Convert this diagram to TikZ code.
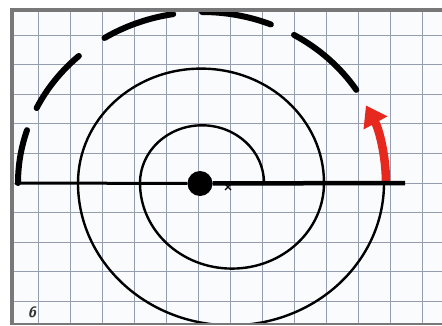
\documentclass[tikz,border=0pt]{standalone}
\usepackage{xcolor}
\usepackage{tikz}
\usetikzlibrary{arrows.meta,calc}

\definecolor{paper}{RGB}{249,251,253}
\definecolor{gridblue}{RGB}{150,157,176}
\definecolor{framegray}{RGB}{120,120,120}
\definecolor{markred}{RGB}{230,40,30}

\begin{document}
\begin{tikzpicture}[x=1pt, y=1pt,
  gridline/.style={draw=gridblue, line width=1pt},
  turn/.style={draw=black, line width=2.4pt},
  dashpiece/.style={draw=black, line width=6pt, line cap=round},
  axisline/.style={draw=black, line cap=butt},
  redarrow/.style={draw=markred, line width=8.5pt, -{Triangle[length=20pt, width=26pt]}},
  border/.style={draw=framegray, line width=3.5pt}
]
  \useasboundingbox (0,0) rectangle (442,325);
  \coordinate (C1) at (202,142);
  \coordinate (C2) at (232,142);

  % paper and grid
  \fill[paper] (13,2) rectangle (442,313);
  \begin{scope}
    \clip (13,2) rectangle (442,313);
    \foreach \k in {-5,...,7}
      \draw[gridline] (198.5+32*\k,0) -- (198.5+32*\k,315);
    \foreach \k in {-4,...,5}
      \draw[gridline] (12,142+29.6*\k) -- (442,142+29.6*\k);

    % spiral of half circles
    \draw[turn] ($(C1)+(62,0)$)
      arc[start angle=0, end angle=180, x radius=62, y radius=57.7]
      arc[start angle=180, end angle=360, x radius=92, y radius=85.6]
      arc[start angle=0, end angle=180, x radius=123, y radius=114.4]
      arc[start angle=180, end angle=360, x radius=153, y radius=142.3];

    % outer turn, broken
    \foreach \a/\b in {33/60, 68/90, 99/122, 132/154, 162/180}
      \draw[dashpiece] ($(C1)+(\a:184 and 171)$)
        arc[start angle=\a, end angle=\b, x radius=184, y radius=171];
    \draw[redarrow] ($(C1)+(184,0)$)
      arc[start angle=0, end angle=27, x radius=184, y radius=171];

    % axis and centre
    \node[circle, fill=black, minimum size=25pt, inner sep=0pt] (hub) at (200,141.5) {};
    \coordinate (axisL) at (15,142);
    \coordinate (axisR) at (405,142);
    \draw[axisline, line width=3pt] (axisL) -- (hub);
    \draw[axisline, line width=4.5pt] (hub) -- (axisR);
    \coordinate (mark) at (228,138);
    \draw[line width=1.2pt] ($(mark)+(-3,-3)$) -- ($(mark)+(3,3)$)
      ($(mark)+(-3,3)$) -- ($(mark)+(3,-3)$);
  \end{scope}

  \node[font=\sffamily\bfseries\itshape\fontsize{15}{15}\selectfont, text=black!80] (panel) at (32,13) {6};

  % frame
  \draw[border] (11.75,0) -- (11.75,315) -- (442,315);
  \draw[border, line width=2.5pt] (10,1.2) -- (442,1.2);
\end{tikzpicture}
\end{document}
